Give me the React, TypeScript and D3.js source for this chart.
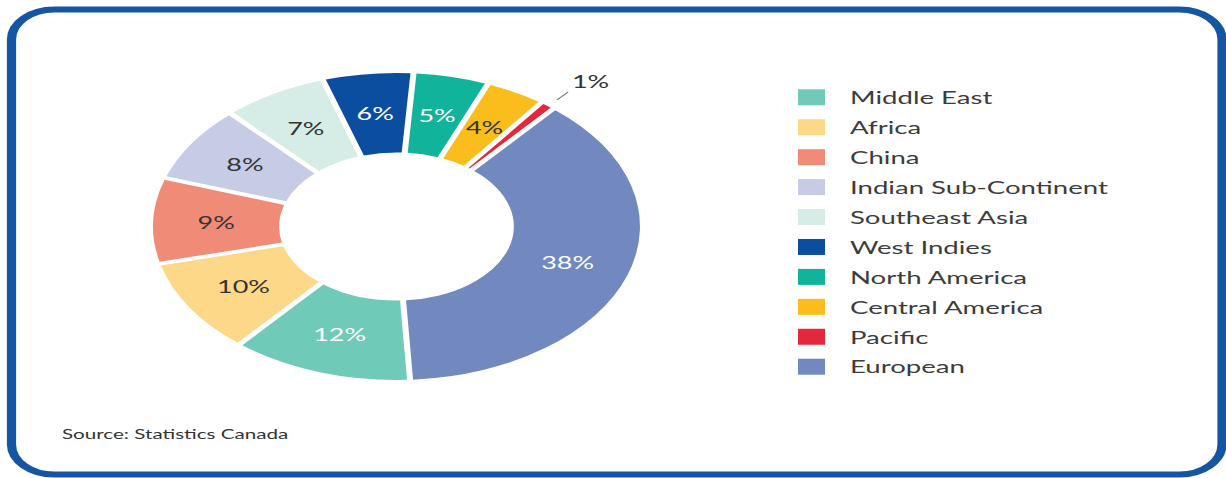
import React from 'react';
import * as d3 from 'd3';

// Slices in drawing order (clockwise from the European slice)
const categories = [
  'European',
  'Middle East',
  'Africa',
  'China',
  'Indian Sub-Continent',
  'Southeast Asia',
  'West Indies',
  'North America',
  'Central America',
  'Pacific',
];
const values = [38, 12, 10, 9, 8, 7, 6, 5, 4, 1];
const sliceLabels = ['38%', '12%', '10%', '9%', '8%', '7%', '6%', '5%', '4%', '1%'];
const colors = [
  '#7189bf',
  '#6fcbb8',
  '#fcd888',
  '#f08b77',
  '#c6cbe6',
  '#d6ede7',
  '#0b4e9f',
  '#12b39b',
  '#fbbd1b',
  '#e3283b',
];
const labelColors = ['#ffffff', '#ffffff', '#333333', '#333333', '#333333', '#333333', '#ffffff', '#ffffff', '#333333', '#333333'];
const legendOrder = [
  'Middle East',
  'Africa',
  'China',
  'Indian Sub-Continent',
  'Southeast Asia',
  'West Indies',
  'North America',
  'Central America',
  'Pacific',
  'European',
];
const sourceText = 'Source: Statistics Canada';

const W = 1226;
const H = 478;
const SX = 1.586; // the whole picture is stretched horizontally
const FONT = 'Lato, "Open Sans", sans-serif';

export default function App() {
  const cx = 396.5 / SX;
  const cy = 226.5;
  const R = 153.5;
  const r = 74;
  const startDeg = 40;
  const start = (startDeg * Math.PI) / 180;

  const pie = d3
    .pie<number>()
    .sort(null)
    .value((d) => d)
    .startAngle(start)
    .endAngle(start + 2 * Math.PI);
  const arcs = pie(values);
  const arc = d3
    .arc<d3.PieArcDatum<number>>()
    .innerRadius(r)
    .outerRadius(R)
    .padAngle(3.8 / R)
    .padRadius(R);
  const labelArc = d3.arc<d3.PieArcDatum<number>>().innerRadius((r + R) / 2).outerRadius((r + R) / 2);

  const legendY = d3.scalePoint<string>().domain(legendOrder).range([97.3, 366.7]);
  const colorOf = (name: string) => colors[categories.indexOf(name)];

  const lastIdx = values.length - 1;

  return (
    <svg width={W} height={H} style={{ position: 'absolute', left: 0, top: 0, background: '#fff' }}>
      <g transform={`scale(${SX},1)`}>
        <rect
          x={11.5 / SX}
          y={9.5}
          width={(1222 - 11.5) / SX}
          height={465}
          rx={27}
          ry={30}
          fill="#ffffff"
          stroke="#1556a4"
          strokeWidth={5.8}
        />
        <g transform={`translate(${cx},${cy})`}>
          {arcs.map((a, i) => (
            <path key={categories[i]} d={arc(a) || ''} fill={colors[i]} />
          ))}
          {arcs.map((a, i) => {
            if (i === lastIdx) return null;
            const [lx, ly] = labelArc.centroid(a);
            return (
              <text
                key={'l' + i}
                x={lx}
                y={ly}
                textAnchor="middle"
                dominantBaseline="central"
                fontFamily={FONT}
                fontSize={17}
                fill={labelColors[i]}
              >
                {sliceLabels[i]}
              </text>
            );
          })}
        </g>
        {/* small slice label with leader */}
        <line x1={557 / SX} y1={100} x2={568 / SX} y2={92} stroke="#777" strokeWidth={1} />
        <text x={572 / SX} y={88} fontFamily={FONT} fontSize={17} fill="#333">
          {sliceLabels[lastIdx]}
        </text>
        {/* legend */}
        {legendOrder.map((name) => (
          <g key={name} transform={`translate(0,${legendY(name)})`}>
            <rect x={798 / SX} y={-8} width={27 / SX} height={16} fill={colorOf(name)} />
            <text
              x={850 / SX}
              y={0}
              dominantBaseline="central"
              fontFamily={FONT}
              fontSize={17.4}
              fill="#3c3c3c"
            >
              {name}
            </text>
          </g>
        ))}
        <text x={62 / SX} y={439} fontFamily={FONT} fontSize={13} fill="#333">
          {sourceText}
        </text>
      </g>
    </svg>
  );
}
